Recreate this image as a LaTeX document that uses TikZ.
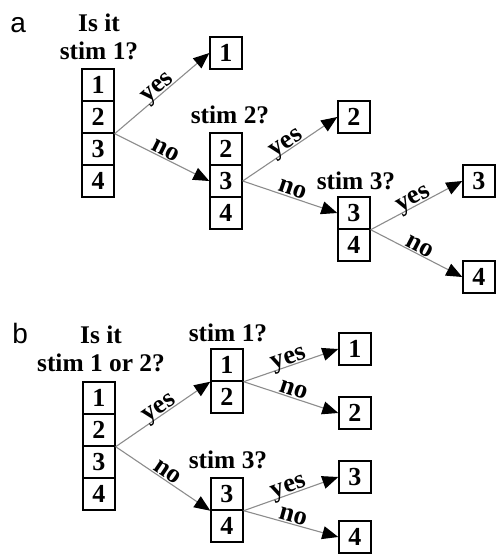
\documentclass[tikz,border=0pt]{standalone}
\usepackage{fontspec}
\setmainfont{Liberation Serif}
\newfontfamily\panelfont{Liberation Sans}
\usetikzlibrary{arrows.meta}
\begin{document}
\begin{tikzpicture}[x=0.5pt,y=-0.5pt,
	cell/.style={draw=black,line width=0.7pt,minimum size=16pt,inner sep=0pt,font=\bfseries\fontsize{13}{14}\selectfont},
	head/.style={anchor=south,align=center,inner sep=0pt,font=\bfseries\fontsize{12.7}{14}\selectfont},
	tag/.style={anchor=base west,inner sep=0pt,font=\panelfont\fontsize{14}{16}\selectfont},
	arr/.style={draw=black!45,line width=0.55pt,-{Triangle[length=8pt,width=6.5pt,color=black]}},
	lbl/.style={sloped,above,inner sep=0.6pt,text depth=0pt,font=\bfseries\fontsize{13.3}{14}\selectfont}]
		\useasboundingbox (0,0) rectangle (496,554);

		%panel a
		\node[tag] (la) at (10,32) {a};

		%first question
		\node[cell] (a1) at (98,85) {1};
		\node[cell] (a2) at (98,117) {2};
		\node[cell] (a3) at (98,149) {3};
		\node[cell] (a4) at (98,181) {4};
		\node[head] (qa) at (99,60) {Is it\\stim 1?};
		\node[cell] (t1) at (226,53) {1};

		%second question
		\node[cell] (b2) at (226,149) {2};
		\node[cell] (b3) at (226,181) {3};
		\node[cell] (b4) at (226,213) {4};
		\node[head] (qb) at (230,124) {stim 2?};
		\node[cell] (t2) at (354,117) {2};

		%third question
		\node[cell] (c3) at (354,213) {3};
		\node[cell] (c4) at (354,245) {4};
		\node[head] (qc) at (356,190) {stim 3?};
		\node[cell] (t3) at (479,181) {3};
		\node[cell] (t4) at (479,277) {4};

		%edges
		\draw[arr] (a2.south east) -- node[lbl] {yes} (t1.west);
		\draw[arr] (a2.south east) -- node[lbl] {no} (b3.west);
		\draw[arr] (b3.east) -- node[lbl] {yes} (t2.west);
		\draw[arr] (b3.east) -- node[lbl] {no} (c3.west);
		\draw[arr] (c3.south east) -- node[lbl] {yes} (t3.west);
		\draw[arr] (c3.south east) -- node[lbl] {no} (t4.west);

		%panel b
		\node[tag] (lb) at (12,343) {b};

		%first question
		\node[cell] (p1) at (99,398) {1};
		\node[cell] (p2) at (99,430) {2};
		\node[cell] (p3) at (99,462) {3};
		\node[cell] (p4) at (99,494) {4};
		\node[head] (qp) at (101,372) {Is it\\stim 1 or 2?};

		%second questions
		\node[cell] (q1) at (227,365) {1};
		\node[cell] (q2) at (227,397) {2};
		\node[head] (qq) at (228,342) {stim 1?};
		\node[cell] (r3) at (227,494) {3};
		\node[cell] (r4) at (227,526) {4};
		\node[head] (qr) at (228,469) {stim 3?};

		%answers
		\node[cell] (u1) at (355,349) {1};
		\node[cell] (u2) at (355,413) {2};
		\node[cell] (u3) at (355,477) {3};
		\node[cell] (u4) at (355,537) {4};

		%edges
		\draw[arr] (p2.south east) -- node[lbl] {yes} (q1.south west);
		\draw[arr] (p2.south east) -- node[lbl] {no} (r3.south west);
		\draw[arr] (q1.south east) -- node[lbl] {yes} (u1.west);
		\draw[arr] (q1.south east) -- node[lbl] {no} (u2.west);
		\draw[arr] (r3.south east) -- node[lbl] {yes} (u3.west);
		\draw[arr] (r3.south east) -- node[lbl] {no} (u4.west);
\end{tikzpicture}
\end{document}
